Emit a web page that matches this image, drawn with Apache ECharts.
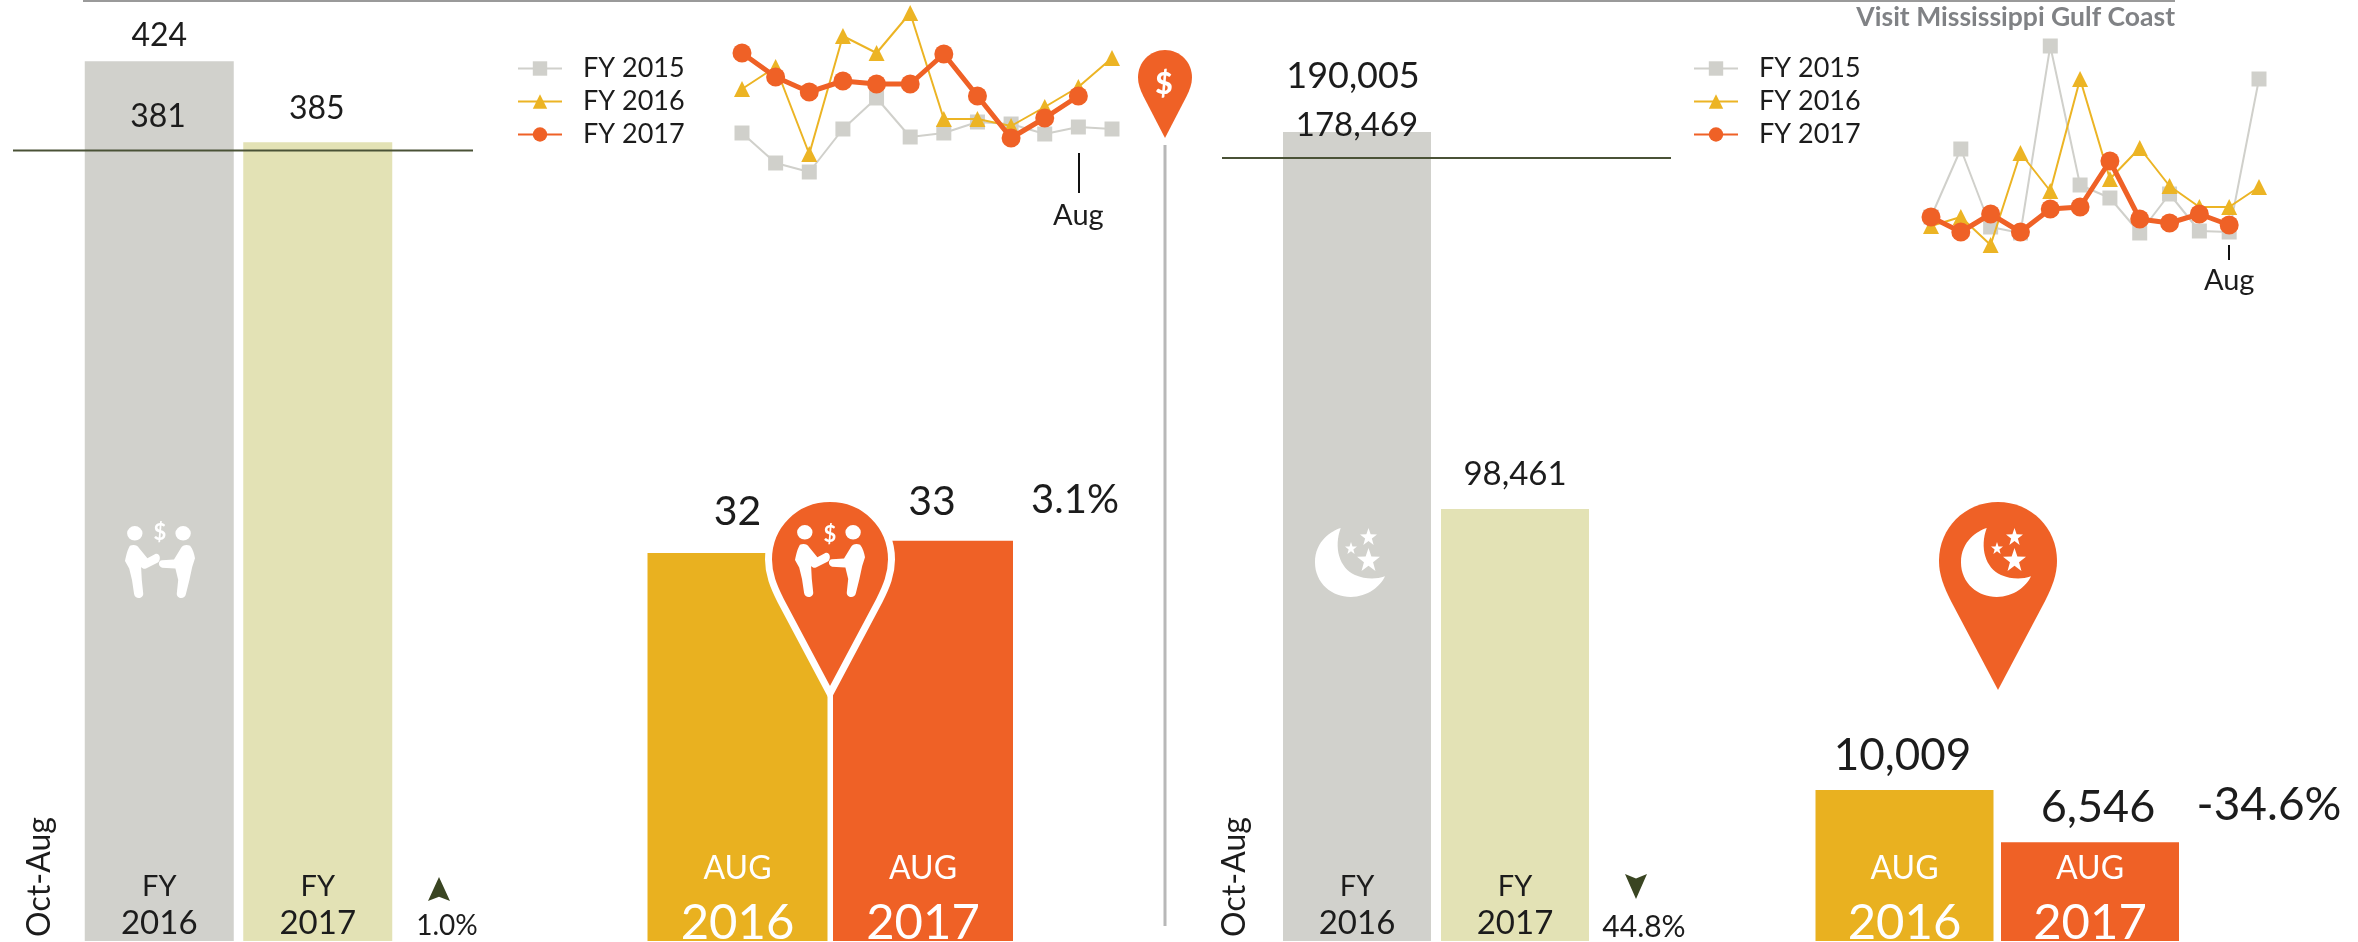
<!DOCTYPE html>
<html>
<head>
<meta charset="utf-8">
<style>
  html, body { margin: 0; padding: 0; background: #fff; overflow: hidden; }
  #chart { width: 2358px; height: 942px; }
</style>
<script src="https://cdn.jsdelivr.net/npm/echarts@6/dist/echarts.min.js"></script>
</head>
<body>
<div id="chart"></div>
<script>
// data
const months = ["Oct", "Nov", "Dec", "Jan", "Feb", "Mar", "Apr", "May", "Jun", "Jul", "Aug", "Sep"]
const lineNames = ["FY 2015", "FY 2016", "FY 2017"]

const fyCats = ["FY 2016", "FY 2017"]
const augCats = ["AUG 2016", "AUG 2017"]

// left group: spending (no unit on the small lines, values are on an unlabelled scale)
const spendFy = [424, 385]
const spendFyRef = 381
const spendAug = [32, 33]
const spend2015 = [67, 37, 28, 71, 102, 63, 67, 78, 76, 66, 73, 71]
const spend2016 = [111, 133, 46, 164, 147, 187, 81, 81, 74, 93, 113, 142]
const spend2017 = [147, 123, 108, 119, 116, 116, 146, 104, 62, 82, 104]

// right group: room nights. the picture draws the 190,005 bar shorter than its label, so bar height is read separately
const nightsFyBars = [184400, 98461]
const nightsFyLabels = ["190,005", "98,461"]
const nightsFyRef = 178469
const nightsAug = [10009, 6546]
const nights2015 = [83, 151, 73, 67, 254, 115, 102, 67, 106, 69, 68, 221]
const nights2016 = [74, 83, 55, 147, 109, 221, 121, 152, 114, 93, 93, 113]
const nights2017 = [83, 68, 86, 68, 91, 93, 139, 81, 77, 86, 75]

const FONT = "Lato"
const GREY = "#D1D1CC", KHAKI = "#E3E2B5", GOLD = "#E9B120", ORANGE = "#EF6126"
const INK = "#1c1c1c", OLIVE = "#4A5236", ARROW = "#3A4522"

const chart = echarts.init(document.getElementById("chart"))

const grids = [], xAxes = [], yAxes = [], series = []

function addGrid(left, top, width, height, x, y) {
  // outerBoundsMode none: keep the grid where it is set, labels may run off the page bottom
  grids.push({ left, top, width, height, containLabel: false, outerBoundsMode: "none" })
  const i = grids.length - 1
  xAxes.push(Object.assign({ gridIndex: i, show: false }, x))
  yAxes.push(Object.assign({ gridIndex: i, type: "value", show: false, splitLine: { show: false } }, y))
  return i
}

function barLabel(text, fontSize, distance, dx) {
  return { show: true, position: "top", distance, offset: [dx || 0, 0], formatter: text, fontFamily: FONT, fontSize, color: INK }
}

// two bars sharing one axis, the axis label sits inside the bar
function addBars(left, width, barWidth, max, cats, values, colors, labels, axisLabel) {
  const i = addGrid(left, 0, width, 941, {
    show: true, type: "category", data: cats, z: 10,
    axisLine: { show: false }, axisTick: { show: false }, axisLabel
  }, { min: 0, max })
  series.push({
    type: "bar", xAxisIndex: i, yAxisIndex: i, barWidth, z: 2,
    data: values.map((v, k) => ({ value: v, itemStyle: { color: colors[k] }, label: labels[k] }))
  })
}

const fyAxisLabel = {
  inside: true, margin: -1, color: INK, fontFamily: FONT,
  formatter: v => "{a|FY}\n{b|" + v.split(" ")[1] + "}",
  rich: { a: { fontFamily: FONT, fontSize: 29, lineHeight: 37, color: INK }, b: { fontFamily: FONT, fontSize: 33, lineHeight: 37, color: INK } }
}
const augAxisLabel = {
  inside: true, margin: -10, color: "#fff", fontFamily: FONT,
  formatter: v => "{a|AUG}\n{b|" + v.split(" ")[1] + "}",
  rich: { a: { fontFamily: FONT, fontSize: 32, lineHeight: 53, color: "#fff" }, b: { fontFamily: FONT, fontSize: 49, lineHeight: 56, color: "#fff" } }
}

addBars(80, 317, 149, 453.5, fyCats, spendFy, [GREY, KHAKI],
  [barLabel("424", 32, 10), barLabel("385", 32, 17, -1)], fyAxisLabel)
addBars(644.75, 371, 180, 77.6, augCats, spendAug, [GOLD, ORANGE],
  [barLabel("32", 41, 21), barLabel("33", 41, 19, 9)], augAxisLabel)
addBars(1278, 316, 148, 214500, fyCats, nightsFyBars, [GREY, KHAKI],
  [barLabel(nightsFyLabels[0], 36, 38, -4), barLabel(nightsFyLabels[1], 33, 18)], fyAxisLabel)
addBars(1811.75, 371, 178, 62360, augCats, nightsAug, [GOLD, ORANGE],
  [barLabel("10,009", 44, 12, -2), barLabel("6,546", 45, 12, 8)], augAxisLabel)

// comparison line runs wider than the bars so it gets its own grid
function addRefLine(left, width, max, value) {
  const i = addGrid(left, 0, width, 941, { type: "value", min: 0, max: 1 }, { min: 0, max })
  series.push({
    type: "line", xAxisIndex: i, yAxisIndex: i, z: 6, symbol: "none", silent: true,
    lineStyle: { color: OLIVE, width: 2 },
    data: [[0, value], [1, value]]
  })
}
addRefLine(13, 460, 453.5, spendFyRef)
addRefLine(1222, 449, 214500, nightsFyRef)

function addLines(left, width, height, max, offset, tickLen, labelMargin, sets) {
  const i = addGrid(left, 0, width, height, {
    show: true, type: "category", data: months, boundaryGap: false, offset,
    axisLine: { show: false },
    axisTick: { show: true, length: tickLen, interval: k => k === 10, lineStyle: { color: "#111", width: 2 } },
    axisLabel: { show: true, interval: k => k === 10, margin: labelMargin, fontFamily: FONT, fontSize: 29, color: INK }
  }, { min: 0, max })
  const styles = [
    { color: "#D0D0CB", width: 2, symbol: "rect", size: 15 },
    { color: "#ECB424", width: 2, symbol: "triangle", size: 16 },
    { color: ORANGE, width: 5, symbol: "circle", size: 19 }
  ]
  sets.forEach((values, k) => {
    const s = styles[k]
    series.push({
      type: "line", name: lineNames[k], xAxisIndex: i, yAxisIndex: i, z: 3 + k, clip: false,
      symbol: s.symbol, symbolSize: s.size, showAllSymbol: true,
      itemStyle: { color: s.color, opacity: 1 },
      lineStyle: { color: s.color, width: s.width },
      data: values
    })
  })
}
addLines(742, 370, 200, 200, -47, 40, 48, [spend2015, spend2016, spend2017])
addLines(1931, 328, 300, 300, -55, 15, 21, [nights2015, nights2016, nights2017])

function legendAt(left) {
  return {
    data: lineNames, orient: "vertical", left, top: 50, itemWidth: 44, itemHeight: 18, itemGap: 6,
    selectedMode: false, textStyle: { fontFamily: FONT, fontSize: 27, color: INK, padding: [4, 0, 0, 16] }
  }
}

// pins and pictograms, drawn by a custom series since the graphic component has no svg path type
const PIN = "M50 0 C22 0 0 22 0 50 C0 62 4 72 10 84 L50 160 L90 84 C96 72 100 62 100 50 C100 22 78 0 50 0 Z"
const PEOPLE = "M3 10 a11 10 0 1 0 22 0 a11 10 0 1 0 -22 0 Z M72 10 a11 10 0 1 0 22 0 a11 10 0 1 0 -22 0 Z " +
  "M7 27 C12 25 18 26 20 30 L32 44 L44 38 C50 37 52 46 47 50 L30 58 C27 59 25 58 23 56 L24 74 L26 92 C27 100 14 101 13 93 L10 74 L6 58 L0 48 C2 38 4 32 7 27 Z " +
  "M93 27 C88 25 82 26 80 30 L70 46 L53 47 C47 47 47 56 53 57 L72 58 L76 74 L74 92 C73 100 86 101 87 93 L92 74 L96 56 L100 44 C99 38 97 32 93 27 Z"
const MOON = "M36 0 C24 4 0 18 0 50 C0 80 24 100 50 100 C74 100 92 84 98 70 C84 75 70 74 56 68 C34 58 26 28 36 0 Z"
const STAR = "M50 0 L62 34 L98 35 L69 57 L79 92 L50 71 L21 92 L31 57 L2 35 L38 34 Z"
const ARROW_UP = "M50 0 L100 100 L50 82 L0 100 Z"
const ARROW_DOWN = "M0 0 L50 18 L100 0 L50 100 Z"

function icon(pathData, x, y, width, height, fill, stroke) {
  const style = { fill }
  if (stroke) { style.stroke = stroke; style.lineWidth = 7 }
  return { type: "path", shape: { pathData, x, y, width, height, layout: "cover" }, style }
}
function moonSet(x, y) {
  return [
    icon(MOON, x, y, 70, 69, "#fff"),
    icon(STAR, x + 45, y, 17, 17, "#fff"),
    icon(STAR, x + 30, y + 14, 12, 12, "#fff"),
    icon(STAR, x + 42, y + 20, 23, 23, "#fff")
  ]
}
const iconItems = [
  icon(ARROW_UP, 428, 877, 22, 24, ARROW),
  icon(ARROW_DOWN, 1625, 874, 22, 25, ARROW),
  icon(PIN, 1138, 50, 54, 88, ORANGE),
  icon(PIN, 768.5, 498.5, 123, 195, ORANGE, "#fff"),
  icon(PEOPLE, 795, 525, 70, 72, "#fff"),
  icon(PEOPLE, 125, 526, 70, 72, "#fff"),
  icon(PIN, 1939, 502, 118, 188, ORANGE),
  ...moonSet(1961, 528),
  ...moonSet(1315, 528)
]
series.push({
  type: "custom", coordinateSystem: "none", silent: true, z: 20, data: [0],
  renderItem: () => ({ type: "group", children: iconItems })
})

function text(str, x, y, fontSize, extra) {
  const el = extra || {}
  return {
    type: "text", z: 100, x, y, rotation: el.rotation || 0,
    style: {
      text: str, fontFamily: FONT, fontSize, fontWeight: el.weight || 400, fill: el.fill || INK,
      align: el.align || "center", verticalAlign: "middle"
    }
  }
}

const graphics = [
  { type: "rect", z: 100, shape: { x: 83, y: 0, width: 2092, height: 2 }, style: { fill: "#9a9a9a" } },
  { type: "rect", z: 100, shape: { x: 1163.5, y: 145, width: 3, height: 781 }, style: { fill: "#B8B8B8" } },
  text("Visit Mississippi Gulf Coast", 2175, 17, 26.5, { weight: 700, fill: "#808285", align: "right" }),

  text("381", 158, 117, 32),
  text("178,469", 1357, 125, 33),
  text("3.1%", 1075, 500, 40),
  text("-34.6%", 2269, 805, 46),
  text("1.0%", 447, 926, 28),
  text("44.8%", 1644, 927, 30),
  text("Oct-Aug", 40, 877, 32, { rotation: Math.PI / 2 }),
  text("Oct-Aug", 1235, 877, 32, { rotation: Math.PI / 2 }),

  text("$", 1164, 84, 30, { weight: 900, fill: "#fff" }),
  text("$", 830, 535, 22, { weight: 700, fill: "#fff" }),
  text("$", 160, 533, 22, { weight: 700, fill: "#fff" })
]

chart.setOption({
  animation: false,
  backgroundColor: "#fff",
  tooltip: { show: false },
  legend: [legendAt(512), legendAt(1688)],
  grid: grids,
  xAxis: xAxes,
  yAxis: yAxes,
  series,
  graphic: { elements: graphics }
})
</script>
</body>
</html>
